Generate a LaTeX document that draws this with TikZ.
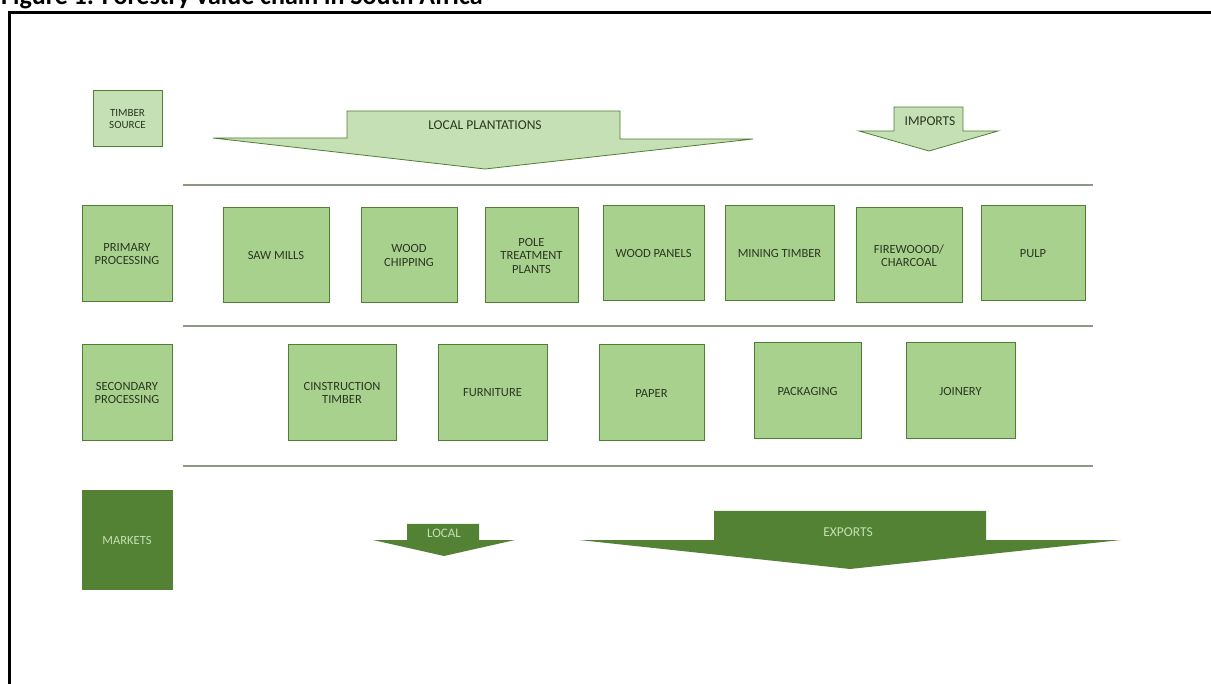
\documentclass[tikz,border=0pt]{standalone}
\usepackage{fontspec}
\setmainfont{Carlito}
\definecolor{lightfill}{HTML}{C5E0B4}
\definecolor{boxfill}{HTML}{A9D18E}
\definecolor{boxline}{HTML}{507E32}
\definecolor{darkfill}{HTML}{548235}
\definecolor{labeltext}{HTML}{2B3622}
\definecolor{rulegray}{HTML}{8C9882}
\tikzset{
  stage/.style={draw=boxline, fill=boxfill, line width=1pt, text=labeltext,
    font=\fontsize{12.5}{13.5}\selectfont, align=center, inner sep=0pt},
  band/.style={draw=boxline, fill=lightfill, line width=0.8pt},
  sepline/.style={draw=rulegray, line width=1.6pt},
}
\begin{document}
\begin{tikzpicture}[x=1pt,y=-1pt]
      \useasboundingbox (0,0) rectangle (1211,684);
      \node [anchor=base west, inner sep=0pt, font=\fontsize{26}{30}\selectfont\bfseries] (title) at (1,5) {Figure 1: Forestry value chain in South Africa};
      \draw [line width=3pt] (9.5,12.5) rectangle (1230,700);
      % timber source
      \node [stage, fill=lightfill, minimum width=69pt, minimum height=56pt, font=\fontsize{11}{12}\selectfont] (src) at (127.5,119) {TIMBER\\SOURCE};
      \draw [band] (347,111) -- (620,111) -- (620,139) -- (753,139) -- (485,169) -- (213,138) -- (347,138) -- cycle;
      \node [text=labeltext, font=\fontsize{13.5}{14}\selectfont] (plant) at (485,125) {LOCAL PLANTATIONS};
      \draw [band] (894,107) -- (963,107) -- (963,131) -- (998,131) -- (929,151) -- (859,131) -- (894,131) -- cycle;
      \node [text=labeltext, font=\fontsize{13.5}{14}\selectfont] (imp) at (930,121) {IMPORTS};
      \draw [sepline] (183,185) -- (1093,185);
      % primary processing
      \node [stage, minimum width=90pt, minimum height=96pt] (prim) at (127,254) {PRIMARY\\PROCESSING};
      \node [stage, minimum width=106pt, minimum height=95pt] (saw) at (276,255.5) {SAW MILLS};
      \node [stage, minimum width=96pt, minimum height=95pt] (chip) at (409,255.5) {WOOD\\CHIPPING};
      \node [stage, minimum width=93pt, minimum height=95pt] (pole) at (531.5,255.5) {POLE\\TREATMENT\\PLANTS};
      \node [stage, minimum width=101pt, minimum height=95pt] (panel) at (653.5,253.5) {WOOD PANELS};
      \node [stage, minimum width=109pt, minimum height=95pt] (mine) at (779.5,253.5) {MINING TIMBER};
      \node [stage, minimum width=106pt, minimum height=95pt] (fire) at (909,255.5) {FIREWOOOD/\\CHARCOAL};
      \node [stage, minimum width=104pt, minimum height=95pt] (pulp) at (1033,253.5) {PULP};
      \draw [sepline] (183,326) -- (1093,326);
      % secondary processing
      \node [stage, minimum width=90pt, minimum height=96pt] (sec) at (127,393) {SECONDARY\\PROCESSING};
      \node [stage, minimum width=108pt, minimum height=96pt] (cons) at (342,393) {CINSTRUCTION\\TIMBER};
      \node [stage, minimum width=109pt, minimum height=96pt] (furn) at (492.5,393) {FURNITURE};
      \node [stage, minimum width=105pt, minimum height=96pt] (paper) at (651.5,393) {PAPER};
      \node [stage, minimum width=107pt, minimum height=96pt] (pack) at (807.5,391) {PACKAGING};
      \node [stage, minimum width=109pt, minimum height=96pt] (join) at (960.5,391) {JOINERY};
      \draw [sepline] (183,466) -- (1093,466);
      % markets
      \node [stage, fill=darkfill, draw=darkfill, text=lightfill, minimum width=90pt, minimum height=98pt] (mkt) at (127,540) {MARKETS};
      \fill [darkfill] (407,524) -- (479,524) -- (479,540) -- (515,540) -- (444,556) -- (373,540) -- (407,540) -- cycle;
      \node [text=lightfill, font=\fontsize{13}{14}\selectfont] (loc) at (444,533) {LOCAL};
      \fill [darkfill] (714,511) -- (986,511) -- (986,540) -- (1121,540) -- (850,569) -- (579,540) -- (714,540) -- cycle;
      \node [text=lightfill, font=\fontsize{13.5}{14}\selectfont] (exp) at (848,532) {EXPORTS};
\end{tikzpicture}
\end{document}
